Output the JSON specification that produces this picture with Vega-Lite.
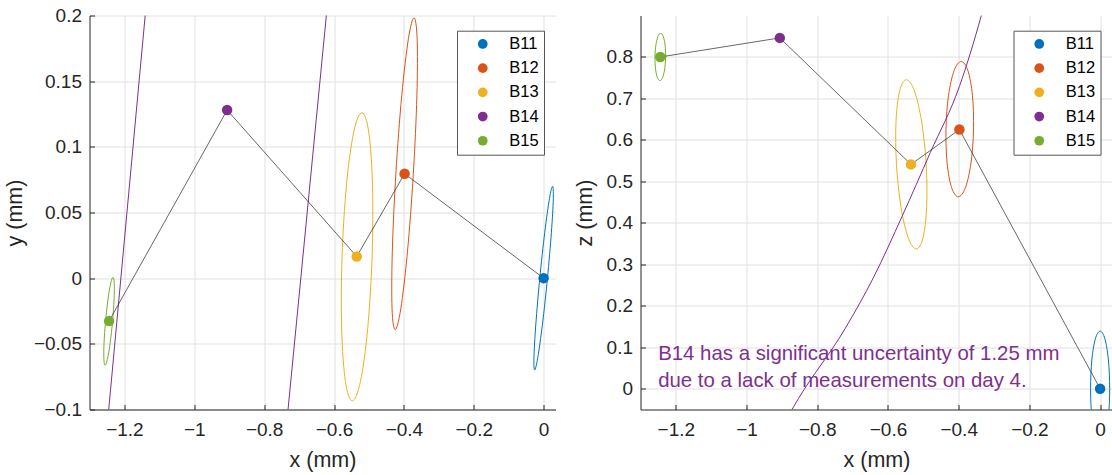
{
  "$schema": "https://vega.github.io/schema/vega-lite/v6.json",
  "background": "white",
  "padding": {"left": 3.5, "top": 6.5, "right": 0, "bottom": 0},
  "config": {
    "font": "Liberation Sans",
    "view": {"stroke": null},
    "concat": {"spacing": 18},
    "axis": {
      "domainColor": "#262626", "domainWidth": 1,
      "tickColor": "#262626", "tickSize": -5, "tickWidth": 1,
      "labelFont": "Liberation Sans", "labelFontSize": 19, "labelColor": "#262626",
      "titleFont": "Liberation Sans", "titleFontSize": 21.5, "titleFontWeight": "normal", "titleColor": "#262626",
      "gridColor": "#e0e0e0", "gridWidth": 1,
      "labelFlush": false, "labelOverlap": false
    },
    "axisX": {"labelPadding": 16, "titlePadding": 10},
    "axisY": {"labelPadding": 13}
  },
  "datasets": {
    "pts": [
      {"view": "xy", "pt": "B11", "x": 0, "v": 0},
      {"view": "xy", "pt": "B12", "x": -0.398, "v": 0.0795},
      {"view": "xy", "pt": "B13", "x": -0.535, "v": 0.0165},
      {"view": "xy", "pt": "B14", "x": -0.906, "v": 0.128},
      {"view": "xy", "pt": "B15", "x": -1.244, "v": -0.0327},
      {"view": "xz", "pt": "B11", "x": 0, "v": 0},
      {"view": "xz", "pt": "B12", "x": -0.398, "v": 0.625},
      {"view": "xz", "pt": "B13", "x": -0.535, "v": 0.541},
      {"view": "xz", "pt": "B14", "x": -0.906, "v": 0.846},
      {"view": "xz", "pt": "B15", "x": -1.244, "v": 0.8}
    ],
    "ell": [
      {"view": "xy", "pt": "B11", "o": 0, "x": 0.0256, "v": 0.0699},
      {"view": "xy", "pt": "B11", "o": 1, "x": 0.0277, "v": 0.0605},
      {"view": "xy", "pt": "B11", "o": 2, "x": 0.0223, "v": 0.035},
      {"view": "xy", "pt": "B11", "o": 3, "x": 0.011, "v": 0},
      {"view": "xy", "pt": "B11", "o": 4, "x": -0.0033, "v": -0.035},
      {"view": "xy", "pt": "B11", "o": 5, "x": -0.0167, "v": -0.0605},
      {"view": "xy", "pt": "B11", "o": 6, "x": -0.0256, "v": -0.0699},
      {"view": "xy", "pt": "B11", "o": 7, "x": -0.0277, "v": -0.0605},
      {"view": "xy", "pt": "B11", "o": 8, "x": -0.0223, "v": -0.035},
      {"view": "xy", "pt": "B11", "o": 9, "x": -0.011, "v": 0},
      {"view": "xy", "pt": "B11", "o": 10, "x": 0.0033, "v": 0.035},
      {"view": "xy", "pt": "B11", "o": 11, "x": 0.0167, "v": 0.0605},

      {"view": "xy", "pt": "B12", "o": 0, "x": -0.371, "v": 0.1982},
      {"view": "xy", "pt": "B12", "o": 1, "x": -0.3621, "v": 0.1823},
      {"view": "xy", "pt": "B12", "o": 2, "x": -0.3628, "v": 0.1389},
      {"view": "xy", "pt": "B12", "o": 3, "x": -0.373, "v": 0.0795},
      {"view": "xy", "pt": "B12", "o": 4, "x": -0.3898, "v": 0.0201},
      {"view": "xy", "pt": "B12", "o": 5, "x": -0.4089, "v": -0.0233},
      {"view": "xy", "pt": "B12", "o": 6, "x": -0.425, "v": -0.0392},
      {"view": "xy", "pt": "B12", "o": 7, "x": -0.4339, "v": -0.0233},
      {"view": "xy", "pt": "B12", "o": 8, "x": -0.4332, "v": 0.0201},
      {"view": "xy", "pt": "B12", "o": 9, "x": -0.423, "v": 0.0795},
      {"view": "xy", "pt": "B12", "o": 10, "x": -0.4062, "v": 0.1389},
      {"view": "xy", "pt": "B12", "o": 11, "x": -0.3871, "v": 0.1823},

      {"view": "xy", "pt": "B13", "o": 0, "x": -0.5203, "v": 0.126},
      {"view": "xy", "pt": "B13", "o": 1, "x": -0.5006, "v": 0.1113},
      {"view": "xy", "pt": "B13", "o": 2, "x": -0.4899, "v": 0.0712},
      {"view": "xy", "pt": "B13", "o": 3, "x": -0.491, "v": 0.0163},
      {"view": "xy", "pt": "B13", "o": 4, "x": -0.5037, "v": -0.0386},
      {"view": "xy", "pt": "B13", "o": 5, "x": -0.5244, "v": -0.0787},
      {"view": "xy", "pt": "B13", "o": 6, "x": -0.5477, "v": -0.0934},
      {"view": "xy", "pt": "B13", "o": 7, "x": -0.5674, "v": -0.0787},
      {"view": "xy", "pt": "B13", "o": 8, "x": -0.5781, "v": -0.0386},
      {"view": "xy", "pt": "B13", "o": 9, "x": -0.577, "v": 0.0163},
      {"view": "xy", "pt": "B13", "o": 10, "x": -0.5643, "v": 0.0712},
      {"view": "xy", "pt": "B13", "o": 11, "x": -0.5436, "v": 0.1113},

      {"view": "xy", "pt": "B15", "o": 0, "x": -1.2327, "v": 0.0007},
      {"view": "xy", "pt": "B15", "o": 1, "x": -1.2292, "v": -0.0038},
      {"view": "xy", "pt": "B15", "o": 2, "x": -1.2296, "v": -0.016},
      {"view": "xy", "pt": "B15", "o": 3, "x": -1.234, "v": -0.0328},
      {"view": "xy", "pt": "B15", "o": 4, "x": -1.241, "v": -0.0496},
      {"view": "xy", "pt": "B15", "o": 5, "x": -1.2488, "v": -0.0618},
      {"view": "xy", "pt": "B15", "o": 6, "x": -1.2553, "v": -0.0663},
      {"view": "xy", "pt": "B15", "o": 7, "x": -1.2588, "v": -0.0618},
      {"view": "xy", "pt": "B15", "o": 8, "x": -1.2584, "v": -0.0496},
      {"view": "xy", "pt": "B15", "o": 9, "x": -1.254, "v": -0.0328},
      {"view": "xy", "pt": "B15", "o": 10, "x": -1.247, "v": -0.016},
      {"view": "xy", "pt": "B15", "o": 11, "x": -1.2392, "v": -0.0038},

      {"view": "xz", "pt": "B11", "o": 0, "x": 0, "v": 0.139},
      {"view": "xz", "pt": "B11", "o": 1, "x": 0.0135, "v": 0.1204},
      {"view": "xz", "pt": "B11", "o": 2, "x": 0.0234, "v": 0.0695},
      {"view": "xz", "pt": "B11", "o": 3, "x": 0.027, "v": 0},
      {"view": "xz", "pt": "B11", "o": 4, "x": 0.0234, "v": -0.0695},
      {"view": "xz", "pt": "B11", "o": 5, "x": 0.0135, "v": -0.1204},
      {"view": "xz", "pt": "B11", "o": 6, "x": 0, "v": -0.139},
      {"view": "xz", "pt": "B11", "o": 7, "x": -0.0135, "v": -0.1204},
      {"view": "xz", "pt": "B11", "o": 8, "x": -0.0234, "v": -0.0695},
      {"view": "xz", "pt": "B11", "o": 9, "x": -0.027, "v": 0},
      {"view": "xz", "pt": "B11", "o": 10, "x": -0.0234, "v": 0.0695},
      {"view": "xz", "pt": "B11", "o": 11, "x": -0.0135, "v": 0.1204},

      {"view": "xz", "pt": "B12", "o": 0, "x": -0.393, "v": 0.789},
      {"view": "xz", "pt": "B12", "o": 1, "x": -0.374, "v": 0.7672},
      {"view": "xz", "pt": "B12", "o": 2, "x": -0.3612, "v": 0.7075},
      {"view": "xz", "pt": "B12", "o": 3, "x": -0.358, "v": 0.626},
      {"view": "xz", "pt": "B12", "o": 4, "x": -0.3652, "v": 0.5445},
      {"view": "xz", "pt": "B12", "o": 5, "x": -0.381, "v": 0.4848},
      {"view": "xz", "pt": "B12", "o": 6, "x": -0.401, "v": 0.463},
      {"view": "xz", "pt": "B12", "o": 7, "x": -0.42, "v": 0.4848},
      {"view": "xz", "pt": "B12", "o": 8, "x": -0.4328, "v": 0.5445},
      {"view": "xz", "pt": "B12", "o": 9, "x": -0.436, "v": 0.626},
      {"view": "xz", "pt": "B12", "o": 10, "x": -0.4288, "v": 0.7075},
      {"view": "xz", "pt": "B12", "o": 11, "x": -0.413, "v": 0.7672},

      {"view": "xz", "pt": "B13", "o": 0, "x": -0.548, "v": 0.745},
      {"view": "xz", "pt": "B13", "o": 1, "x": -0.5251, "v": 0.7177},
      {"view": "xz", "pt": "B13", "o": 2, "x": -0.5046, "v": 0.643},
      {"view": "xz", "pt": "B13", "o": 3, "x": -0.492, "v": 0.541},
      {"view": "xz", "pt": "B13", "o": 4, "x": -0.4906, "v": 0.439},
      {"view": "xz", "pt": "B13", "o": 5, "x": -0.5009, "v": 0.3643},
      {"view": "xz", "pt": "B13", "o": 6, "x": -0.52, "v": 0.337},
      {"view": "xz", "pt": "B13", "o": 7, "x": -0.5429, "v": 0.3643},
      {"view": "xz", "pt": "B13", "o": 8, "x": -0.5634, "v": 0.439},
      {"view": "xz", "pt": "B13", "o": 9, "x": -0.576, "v": 0.541},
      {"view": "xz", "pt": "B13", "o": 10, "x": -0.5774, "v": 0.643},
      {"view": "xz", "pt": "B13", "o": 11, "x": -0.5671, "v": 0.7177},

      {"view": "xz", "pt": "B15", "o": 0, "x": -1.243, "v": 0.857},
      {"view": "xz", "pt": "B15", "o": 1, "x": -1.2356, "v": 0.8494},
      {"view": "xz", "pt": "B15", "o": 2, "x": -1.2305, "v": 0.8285},
      {"view": "xz", "pt": "B15", "o": 3, "x": -1.229, "v": 0.8},
      {"view": "xz", "pt": "B15", "o": 4, "x": -1.2315, "v": 0.7715},
      {"view": "xz", "pt": "B15", "o": 5, "x": -1.2374, "v": 0.7506},
      {"view": "xz", "pt": "B15", "o": 6, "x": -1.245, "v": 0.743},
      {"view": "xz", "pt": "B15", "o": 7, "x": -1.2524, "v": 0.7506},
      {"view": "xz", "pt": "B15", "o": 8, "x": -1.2575, "v": 0.7715},
      {"view": "xz", "pt": "B15", "o": 9, "x": -1.259, "v": 0.8},
      {"view": "xz", "pt": "B15", "o": 10, "x": -1.2565, "v": 0.8285},
      {"view": "xz", "pt": "B15", "o": 11, "x": -1.2506, "v": 0.8494}
    ],
    "b14": [
      {"view": "xy", "seg": "L", "o": 0, "x": -1.2519, "v": -0.12},
      {"view": "xy", "seg": "L", "o": 1, "x": -1.1657, "v": 0.128},
      {"view": "xy", "seg": "L", "o": 2, "x": -1.1336, "v": 0.22},
      {"view": "xy", "seg": "R", "o": 0, "x": -0.739, "v": -0.12},
      {"view": "xy", "seg": "R", "o": 1, "x": -0.6483, "v": 0.128},
      {"view": "xy", "seg": "R", "o": 2, "x": -0.6146, "v": 0.22},
      {"view": "xz", "seg": "C", "o": 0, "x": -0.89, "v": -0.08},
      {"view": "xz", "seg": "C", "o": 1, "x": -0.8715, "v": -0.05},
      {"view": "xz", "seg": "C", "o": 2, "x": -0.8535, "v": -0.024},
      {"view": "xz", "seg": "C", "o": 3, "x": -0.722, "v": 0.144},
      {"view": "xz", "seg": "C", "o": 4, "x": -0.64, "v": 0.27},
      {"view": "xz", "seg": "C", "o": 5, "x": -0.56, "v": 0.416},
      {"view": "xz", "seg": "C", "o": 6, "x": -0.48, "v": 0.57},
      {"view": "xz", "seg": "C", "o": 7, "x": -0.398, "v": 0.729},
      {"view": "xz", "seg": "C", "o": 8, "x": -0.336, "v": 0.9},
      {"view": "xz", "seg": "C", "o": 9, "x": -0.32, "v": 0.95}
    ],
    "note": [
      {"x": -1.25, "v": 0.052, "label": ["B14 has a significant uncertainty of 1.25 mm", "due to a lack of measurements on day 4."]}
    ]
  },
  "resolve": {"scale": {"x": "independent", "y": "independent"}, "legend": {"color": "independent"}},
  "hconcat": [
    {
      "width": 466,
      "height": 394,
      "encoding": {
        "x": {"field": "x", "type": "quantitative", "title": "x (mm)",
          "scale": {"domain": [-1.3, 0.034], "nice": false, "zero": false},
          "axis": {"values": [-1.2, -1, -0.8, -0.6, -0.4, -0.2, 0], "format": "~g"}},
        "y": {"field": "v", "type": "quantitative", "title": "y (mm)",
          "scale": {"domain": [-0.1, 0.2], "nice": false, "zero": false},
          "axis": {"values": [-0.1, -0.05, 0, 0.05, 0.1, 0.15, 0.2], "format": "~g", "titlePadding": 7}}
      },
      "layer": [
        {
          "data": {"name": "ell"},
          "transform": [{"filter": "datum.view === 'xy'"}],
          "mark": {"type": "line", "interpolate": "cardinal-closed", "clip": true, "strokeWidth": 1},
          "encoding": {
            "stroke": {"field": "pt", "type": "nominal", "legend": null,
              "scale": {"domain": ["B11", "B12", "B13", "B14", "B15"], "range": ["#0072BD", "#D95319", "#EDB120", "#7E2F8E", "#77AC30"]}},
            "order": {"field": "o", "type": "quantitative"}
          }
        },
        {
          "data": {"name": "b14"},
          "transform": [{"filter": "datum.view === 'xy'"}],
          "mark": {"type": "line", "clip": true, "strokeWidth": 1, "color": "#7E2F8E"},
          "encoding": {
            "detail": {"field": "seg", "type": "nominal"},
            "order": {"field": "o", "type": "quantitative"}
          }
        },
        {
          "data": {"name": "pts"},
          "transform": [{"filter": "datum.view === 'xy'"}],
          "mark": {"type": "line", "color": "#262626", "strokeWidth": 0.7},
          "encoding": {
            "order": {"field": "pt", "type": "ordinal"}
          }
        },
        {
          "data": {"name": "pts"},
          "transform": [{"filter": "datum.view === 'xy'"}],
          "mark": {"type": "point", "filled": true, "size": 110, "opacity": 1},
          "encoding": {
            "color": {"field": "pt", "type": "nominal",
              "scale": {"domain": ["B11", "B12", "B13", "B14", "B15"], "range": ["#0072BD", "#D95319", "#EDB120", "#7E2F8E", "#77AC30"]},
              "legend": {"orient": "none", "legendX": 367.5, "legendY": 15.2, "title": null,
                "strokeColor": "#555555", "fillColor": "white", "padding": 5,
                "symbolType": "circle", "symbolSize": 95, "symbolStrokeWidth": 0, "symbolOpacity": 1,
                "symbolOffset": 12.5, "labelOffset": 18.2, "labelFontSize": 16.5, "labelColor": "#000000",
                "labelFont": "Liberation Sans", "rowPadding": 7.2}}
          }
        }
      ]
    },
    {
      "width": 472,
      "height": 394,
      "encoding": {
        "x": {"field": "x", "type": "quantitative", "title": "x (mm)",
          "scale": {"domain": [-1.3, 0.035], "nice": false, "zero": false},
          "axis": {"values": [-1.2, -1, -0.8, -0.6, -0.4, -0.2, 0], "format": "~g"}},
        "y": {"field": "v", "type": "quantitative", "title": "z (mm)",
          "scale": {"domain": [-0.05, 0.9], "nice": false, "zero": false},
          "axis": {"values": [0, 0.1, 0.2, 0.3, 0.4, 0.5, 0.6, 0.7, 0.8], "format": "~g", "titlePadding": 10}}
      },
      "layer": [
        {
          "data": {"name": "ell"},
          "transform": [{"filter": "datum.view === 'xz'"}],
          "mark": {"type": "line", "interpolate": "cardinal-closed", "clip": true, "strokeWidth": 1},
          "encoding": {
            "stroke": {"field": "pt", "type": "nominal", "legend": null,
              "scale": {"domain": ["B11", "B12", "B13", "B14", "B15"], "range": ["#0072BD", "#D95319", "#EDB120", "#7E2F8E", "#77AC30"]}},
            "order": {"field": "o", "type": "quantitative"}
          }
        },
        {
          "data": {"name": "b14"},
          "transform": [{"filter": "datum.view === 'xz'"}],
          "mark": {"type": "line", "interpolate": "monotone", "clip": true, "strokeWidth": 1, "color": "#7E2F8E"},
          "encoding": {
            "detail": {"field": "seg", "type": "nominal"},
            "order": {"field": "o", "type": "quantitative"}
          }
        },
        {
          "data": {"name": "pts"},
          "transform": [{"filter": "datum.view === 'xz'"}],
          "mark": {"type": "line", "color": "#262626", "strokeWidth": 0.7},
          "encoding": {
            "order": {"field": "pt", "type": "ordinal"}
          }
        },
        {
          "data": {"name": "note"},
          "mark": {"type": "text", "align": "left", "baseline": "middle", "dy": -13, "fontSize": 20.4, "lineHeight": 26.7, "color": "#7E2F8E", "font": "Liberation Sans"},
          "encoding": {
            "text": {"field": "label"}
          }
        },
        {
          "data": {"name": "pts"},
          "transform": [{"filter": "datum.view === 'xz'"}],
          "mark": {"type": "point", "filled": true, "size": 110, "opacity": 1},
          "encoding": {
            "color": {"field": "pt", "type": "nominal",
              "scale": {"domain": ["B11", "B12", "B13", "B14", "B15"], "range": ["#0072BD", "#D95319", "#EDB120", "#7E2F8E", "#77AC30"]},
              "legend": {"orient": "none", "legendX": 373, "legendY": 15.2, "title": null,
                "strokeColor": "#555555", "fillColor": "white", "padding": 5,
                "symbolType": "circle", "symbolSize": 95, "symbolStrokeWidth": 0, "symbolOpacity": 1,
                "symbolOffset": 12.5, "labelOffset": 18.2, "labelFontSize": 16.5, "labelColor": "#000000",
                "labelFont": "Liberation Sans", "rowPadding": 7.2}}
          }
        }
      ]
    }
  ]
}
